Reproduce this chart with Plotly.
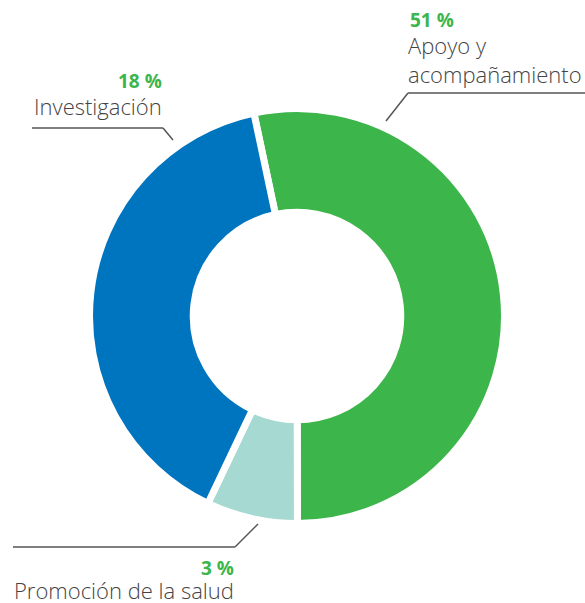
import plotly.graph_objects as go

W, H = 585, 603

categories = ["Apoyo y<br>acompañamiento", "Promoción de la salud", "Investigación"]
values = [53.3, 7.1, 39.6]
pct_labels = ["51 %", "3 %", "18 %"]
colors = ["#3cb54a", "#a5d9d1", "#0075bf"]

cx, cy, r = 297, 316, 207.5


def px(x):
    return x / W


def py(y):
    return 1 - y / H


fig = go.Figure(go.Pie(
    labels=categories,
    values=values,
    hole=0.5,
    sort=False,
    direction="clockwise",
    rotation=-12,
    marker=dict(colors=colors, line=dict(color="white", width=7)),
    textinfo="none",
    hoverinfo="label+percent",
    showlegend=False,
    domain=dict(x=[px(cx - r), px(cx + r)], y=[py(cy + r), py(cy - r)]),
))

green = "#3cb54a"
grey = "#444444"
fam = "'Open Sans', Lato, sans-serif"
lab_font = dict(color=grey, size=22, family=fam, weight=300)
pct_font = dict(color=green, size=19, family=fam, weight=700)

annos = []
# Apoyo
annos.append(dict(x=px(408), y=py(20), text=pct_labels[0], xanchor="left", yanchor="middle", font=pct_font))
annos.append(dict(x=px(406), y=py(60), text=categories[0], xanchor="left", yanchor="middle", align="left",
                  font=lab_font))
# Investigación
annos.append(dict(x=px(164), y=py(81), text=pct_labels[2], xanchor="right", yanchor="middle", font=pct_font))
annos.append(dict(x=px(164), y=py(106), text=categories[2], xanchor="right", yanchor="middle", font=lab_font))
# Promoción
annos.append(dict(x=px(236), y=py(568), text=pct_labels[1], xanchor="right", yanchor="middle", font=pct_font))
annos.append(dict(x=px(236), y=py(590), text=categories[1], xanchor="right", yanchor="middle", font=lab_font))
for a in annos:
    a.update(xref="paper", yref="paper", showarrow=False)

lc = "#555555"
segments = [
    (585, 93, 408, 93), (408, 93, 386, 121),
    (32, 128, 163, 128), (163, 128, 173, 140),
    (13, 547, 235, 547), (235, 547, 258, 524),
]
shapes = [dict(type="line", xref="paper", yref="paper", x0=px(a), y0=py(b), x1=px(c), y1=py(d),
               line=dict(color=lc, width=1.5)) for a, b, c, d in segments]

fig.update_layout(
    width=W, height=H,
    margin=dict(l=0, r=0, t=0, b=0),
    paper_bgcolor="white", plot_bgcolor="white",
    annotations=annos, shapes=shapes,
)

fig.write_html("out.html", config={"displayModeBar": False},
               post_script="document.body.style.margin='0';document.body.style.overflow='hidden';")
